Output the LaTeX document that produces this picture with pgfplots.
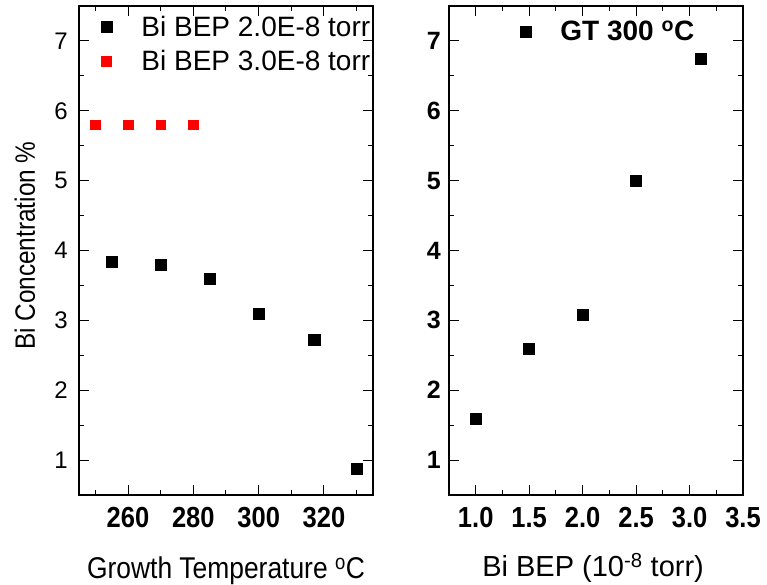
\documentclass[border=0pt]{standalone}
\usepackage{fontspec}
\setmainfont{Liberation Sans}
\newfontfamily\cond[FakeStretch=0.87]{Liberation Sans}
\newfontfamily\tall[FakeStretch=0.88]{Liberation Sans}
\usepackage{pgfplots}
\pgfplotsset{compat=1.18}
\begin{document}
\begin{tikzpicture}[x=1bp,y=1bp]
\useasboundingbox (0,0) rectangle (767,585);
\pgfplotsset{
  every axis/.append style={
    scale only axis, width=294bp, height=489bp,
    axis line style={line width=1.3bp},
    every tick/.style={line width=1bp, black},
    tick align=inside,
    major tick length=10bp, minor tick length=5bp,
    ymin=0.5, ymax=7.5, ytick={1,2,3,4,5,6,7},
    minor ytick={0.5,1.5,2.5,3.5,4.5,5.5,6.5,7.5},
    /pgf/number format/assume math mode=true,
    xticklabel style={anchor=base, inner sep=0pt, yshift=-33bp,
      font=\tall\bfseries\fontsize{29bp}{30bp}\selectfont},
    xlabel style={anchor=base},
    legend image code/.code={\path (-15bp,0bp) (33bp,0bp);
      \draw[only marks] plot coordinates {(0bp,0bp)};},
    legend cell align=left,
  },
}
\begin{axis}[at={(79bp,90bp)}, anchor=south west,
  xmin=245, xmax=335, xtick={260,280,300,320},
  minor xtick={250,270,290,310,330},
  yticklabel style={anchor=east, inner sep=0pt, xshift=-11bp,
    font=\fontsize{24bp}{28bp}\selectfont},
  xlabel={Growth Temperature \textsuperscript{o}C},
  xlabel style={at={(axis description cs:0.5,-0.170)},
    font=\tall\fontsize{30bp}{32bp}\selectfont},
  ylabel={\cond Bi Concentration \%},
  ylabel style={at={(axis description cs:-0.150,0.51)}, anchor=base, rotate=0,
    font=\fontsize{28bp}{30bp}\selectfont},
  legend style={draw=none, fill=none, inner sep=0pt, outer sep=0pt,
    at={(axis description cs:0.041,0.984)}, anchor=north west,
    font=\fontsize{28bp}{30bp}\selectfont,
    nodes={inner sep=2bp}, row sep=8.6bp},
]
\addplot[only marks, mark=square*, mark size=5.5bp, black] coordinates {
  (255,3.84) (270,3.80) (285,3.60) (300,3.09) (317,2.72) (330,0.875)};
\addplot[only marks, mark=square*, mark size=4.8bp, red, mark options={fill=red}] coordinates {
  (250,5.8) (260,5.8) (270,5.8) (280,5.8)};
\legend{Bi BEP 2.0E-8 torr, Bi BEP 3.0E-8 torr}
\end{axis}
\begin{axis}[at={(449bp,90bp)}, anchor=south west,
  xmin=0.75, xmax=3.5, xtick={1,1.5,2,2.5,3,3.5},
  minor xtick={1.25,1.75,2.25,2.75,3.25},
  xticklabel style={/pgf/number format/.cd, fixed, fixed zerofill, precision=1},
  yticklabel style={anchor=east, inner sep=0pt, xshift=-8bp,
    font=\bfseries\fontsize{25bp}{28bp}\selectfont},
  xlabel={Bi BEP (10\textsuperscript{-8} torr)},
  xlabel style={at={(axis description cs:0.49,-0.166)},
    font=\fontsize{29bp}{32bp}\selectfont},
  legend style={draw=none, fill=none, inner sep=0pt, outer sep=0pt,
    at={(axis description cs:0.2075,0.974)}, anchor=north west,
    font=\bfseries\fontsize{28bp}{30bp}\selectfont,
    nodes={inner sep=2bp}},
]
\addplot[only marks, mark=square*, mark size=5.5bp, black] coordinates {
  (1.0,1.59) (1.5,2.59) (2.0,3.08) (2.5,5.0) (3.1,6.75)};
\legend{GT 300 \textsuperscript{o}C}
\end{axis}
\end{tikzpicture}
\end{document}
